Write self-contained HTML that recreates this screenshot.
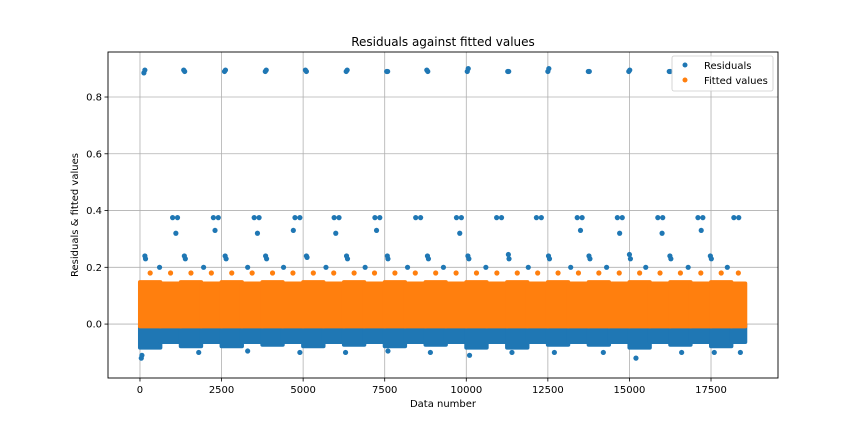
<!DOCTYPE html>
<html><head><meta charset="utf-8"><style>
body{margin:0;background:#fff;}
svg text{font-family:"DejaVu Sans","Liberation Sans",sans-serif;fill:#000;}
</style></head><body>
<svg id="chart" width="864" height="432" xmlns="http://www.w3.org/2000/svg">
<rect width="864" height="432" fill="#fff"/>
<g id="grid"></g>
<g id="marks"></g>
<rect x="108" y="52" width="670" height="326" fill="none" stroke="#000" stroke-width="0.9"/>
<g id="axes"></g>
<text x="443" y="46" font-size="12" text-anchor="middle">Residuals against fitted values</text>
<text x="443" y="407" font-size="10" text-anchor="middle">Data number</text>
<text x="78" y="215" font-size="10" text-anchor="middle" transform="rotate(-90 78 215)">Residuals &amp; fitted values</text>
<g>
<rect x="672" y="56" width="101" height="35" rx="2" fill="#fff" fill-opacity="0.8" stroke="#ccc" stroke-width="0.8"/>
<g><circle cx="685" cy="65" r="2.5" fill="#1f77b4"/><text x="704" y="69" font-size="10">Residuals</text></g>
<g><circle cx="685" cy="80" r="2.5" fill="#ff7f0e"/><text x="704" y="84" font-size="10">Fitted values</text></g>
</g>
</svg>
<script>
const xTicks=[0,2500,5000,7500,10000,12500,15000,17500];
const yTicks=[0.0,0.2,0.4,0.6,0.8];
const binStarts=[0,625,1250,1875,2500,3125,3750,4375,5000,5625,6250,6875,7500,8125,8750,9375,10000,10625,11250,11875,12500,13125,13750,14375,15000,15625,16250,16875,17500,18125];
const binWidth=[625,625,625,625,625,625,625,625,625,625,625,625,625,625,625,625,625,625,625,625,625,625,625,625,625,625,625,625,625,425];
const blueBottom=[-0.09,-0.07,-0.085,-0.07,-0.085,-0.07,-0.08,-0.07,-0.085,-0.07,-0.08,-0.07,-0.085,-0.07,-0.08,-0.07,-0.09,-0.07,-0.09,-0.07,-0.08,-0.07,-0.08,-0.07,-0.09,-0.07,-0.08,-0.07,-0.085,-0.07];
const orangeTop=[0.155,0.15,0.155,0.15,0.155,0.15,0.155,0.15,0.155,0.15,0.155,0.15,0.155,0.15,0.155,0.15,0.155,0.15,0.155,0.15,0.155,0.15,0.155,0.15,0.155,0.15,0.155,0.15,0.155,0.15];
const orangeBottom=-0.015;
const highX=[120,150,1340,1370,2590,2620,3840,3870,5070,5100,6320,6350,7560,7590,8790,8820,10030,10060,11270,11300,12500,12530,13740,13770,14980,15010,16220,16250];
const highY=[0.885,0.895,0.895,0.89,0.89,0.895,0.89,0.895,0.895,0.89,0.89,0.895,0.89,0.89,0.895,0.89,0.89,0.9,0.89,0.89,0.89,0.9,0.89,0.89,0.89,0.895,0.89,0.89];
const midX=[1000,1150,1100,2250,2400,2300,3500,3650,3600,4750,4900,4700,5950,6100,6000,7200,7350,7250,8450,8600,9700,9850,9800,10930,11080,12150,12300,13400,13550,13500,14630,14780,14700,15870,16020,16000,17100,17250,17200,18200,18350];
const midY=[0.375,0.375,0.32,0.375,0.375,0.33,0.375,0.375,0.32,0.375,0.375,0.33,0.375,0.375,0.32,0.375,0.375,0.33,0.375,0.375,0.375,0.375,0.32,0.375,0.375,0.375,0.375,0.375,0.375,0.33,0.375,0.375,0.32,0.375,0.375,0.32,0.375,0.375,0.33,0.375,0.375];
const lowX=[150,170,1360,1390,2610,2640,3850,3880,5100,5120,6330,6360,7580,7600,8810,8840,10050,10080,11290,11310,12520,12550,13760,13790,15000,15030,16240,16270,17480,17510,600,1950,3300,4400,5700,6900,8200,9300,10600,11900,13200,14300,15500,16800,18000];
const lowY=[0.24,0.23,0.24,0.23,0.24,0.23,0.24,0.23,0.24,0.235,0.24,0.23,0.24,0.23,0.24,0.23,0.24,0.23,0.245,0.23,0.24,0.23,0.24,0.23,0.245,0.23,0.24,0.23,0.24,0.23,0.2,0.2,0.2,0.2,0.2,0.2,0.2,0.2,0.2,0.2,0.2,0.2,0.2,0.2,0.2];
const negX=[40,60,1800,3300,4900,6300,7600,8900,10100,11400,12700,14200,15200,16600,17600,18400];
const negY=[-0.12,-0.11,-0.1,-0.095,-0.1,-0.1,-0.095,-0.1,-0.11,-0.1,-0.1,-0.1,-0.12,-0.1,-0.1,-0.1];
const NS="http://www.w3.org/2000/svg";
const X0=108,X1=778,Y0=52,Y1=378,XMIN=-980,XMAX=19553,YMIN=-0.19,YMAX=0.9586;
const sx=v=>X0+(v-XMIN)/(XMAX-XMIN)*(X1-X0);
const sy=v=>Y1-(v-YMIN)/(YMAX-YMIN)*(Y1-Y0);
const grid=document.getElementById('grid'),axes=document.getElementById('axes'),marks=document.getElementById('marks');
function mk(tag,attrs,parent){const e=document.createElementNS(NS,tag);for(const k in attrs)e.setAttribute(k,attrs[k]);parent.appendChild(e);return e;}
xTicks.forEach(t=>{const x=sx(t);
const g=mk('line',{x1:x,x2:x,y1:Y0,y2:Y1,stroke:'#b0b0b0','stroke-width':0.8},grid);


mk('line',{x1:x,x2:x,y1:Y1,y2:Y1+3.5,stroke:'#000','stroke-width':0.8},axes);
const tx=mk('text',{x:x,y:Y1+15,'font-size':10,'text-anchor':'middle'},axes);tx.textContent=t;

});
yTicks.forEach(t=>{const y=sy(t);
const g=mk('line',{x1:X0,x2:X1,y1:y,y2:y,stroke:'#b0b0b0','stroke-width':0.8},grid);


mk('line',{x1:X0-3.5,x2:X0,y1:y,y2:y,stroke:'#000','stroke-width':0.8},axes);
const tx=mk('text',{x:X0-6,y:y+3.5,'font-size':10,'text-anchor':'end'},axes);tx.textContent=t.toFixed(1);

});
binStarts.forEach((b,i)=>{const x=sx(b)-2,w=sx(b+binWidth[i])-sx(b)+4;
const r=mk('rect',{x:x,y:sy(0.005),width:w,height:sy(blueBottom[i])-sy(0.005),fill:'#1f77b4',rx:2},marks);

});
function dots(xs,ys,col,name){xs.forEach((v,i)=>{const c=mk('circle',{cx:sx(v),cy:sy(ys[i]),r:2.6,fill:col},marks);

});}
dots(highX,highY,'#1f77b4','residual-point');
dots(midX,midY,'#1f77b4','residual-point');
dots(lowX,lowY,'#1f77b4','residual-point');
dots(negX,negY,'#1f77b4','residual-point');
binStarts.forEach((b,i)=>{const x=sx(b)-2,w=sx(b+binWidth[i])-sx(b)+4;
const r=mk('rect',{x:x,y:sy(orangeTop[i]),width:w,height:sy(orangeBottom)-sy(orangeTop[i]),fill:'#ff7f0e',rx:2},marks);


const c=mk('circle',{cx:sx(b+binWidth[i]/2),cy:sy(0.18),r:2.6,fill:'#ff7f0e'},marks);

});
</script>
</body></html>
